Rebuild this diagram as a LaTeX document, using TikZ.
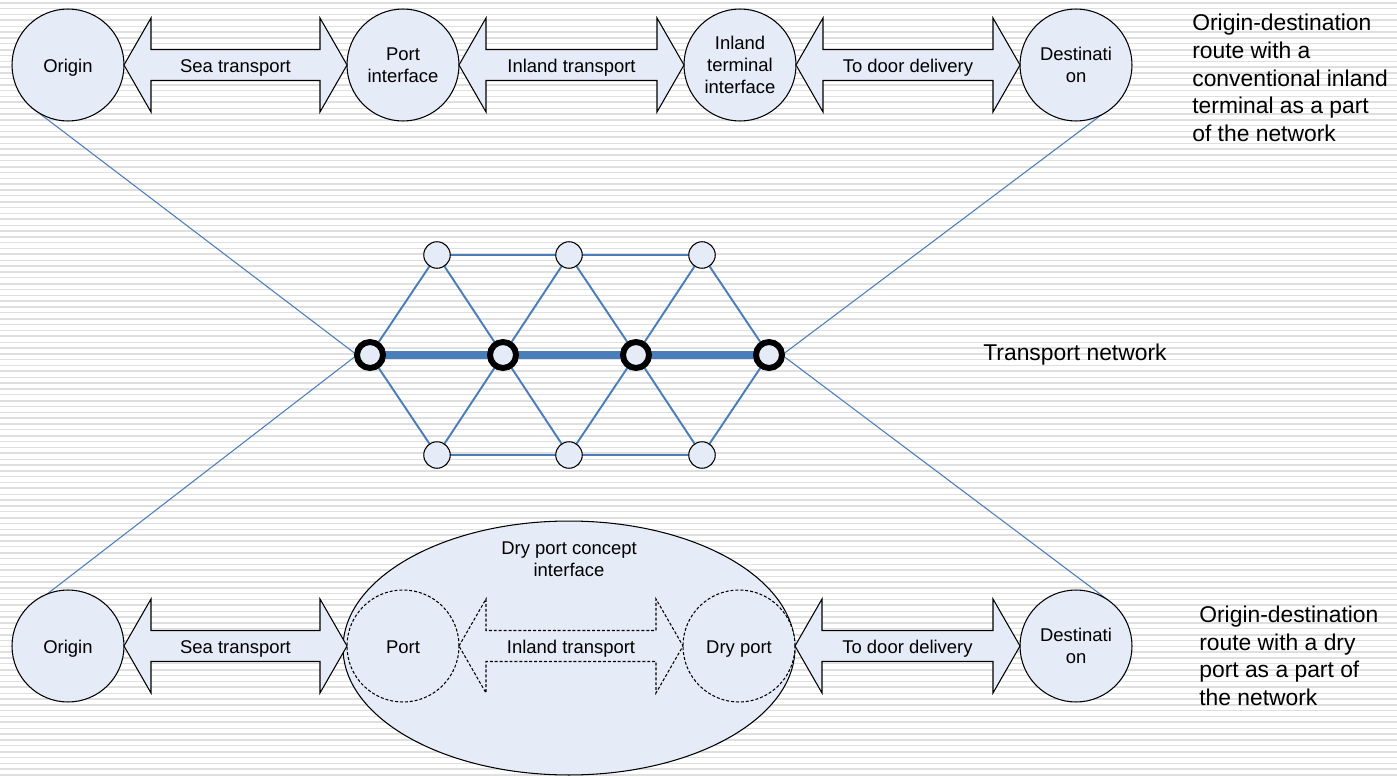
\documentclass[tikz,border=0pt]{standalone}
\usepackage{fontspec}
\setmainfont{Liberation Sans}
\usetikzlibrary{calc}
\usetikzlibrary{backgrounds}
\usetikzlibrary{shapes.geometric}

\definecolor{nodefill}{RGB}{229,235,247}
\definecolor{netblue}{RGB}{74,126,187}

\begin{document}
\begin{tikzpicture}[x=0.02cm, y=-0.02cm,
	station/.style={circle, draw=black, line width=0.6pt, fill=nodefill, minimum size=2.24cm,
		inner sep=0pt, outer sep=0pt, align=center, font=\fontsize{10.5}{12.7}\selectfont},
	hub/.style={circle, draw=black, line width=3.4pt, fill=nodefill, minimum size=0.52cm, inner sep=0pt, outer sep=0pt},
	knot/.style={circle, draw=black, line width=0.6pt, fill=nodefill, minimum size=0.53cm, inner sep=0pt, outer sep=0pt},
	twoway/.style={draw=black, line width=0.6pt, fill=nodefill, line join=miter},
	shortdash/.style={dash pattern=on 1.7pt off 1.1pt},
	arrowtext/.style={font=\fontsize{10.5}{12.7}\selectfont, inner sep=0pt, yshift=-0.05cm},
	sidetext/.style={font=\fontsize{13}{15.7}\selectfont, align=left, anchor=west, inner sep=0pt},
	net/.style={netblue, line width=1.1pt},
	link/.style={netblue, line width=0.6pt}]

	\useasboundingbox (0,0) rectangle (1397,777);

	% striped backdrop
	\begin{scope}[on background layer]
		\fill[white] (0,0) rectangle (1397,777);
		\foreach \k in {0,...,66} {
			\draw[gray!25, line width=0.85pt] (0,{3+11.7*\k}) -- (1397,{3+11.7*\k});
			\draw[gray!25, line width=0.85pt] (0,{8.5+11.7*\k}) -- (1397,{8.5+11.7*\k});
		}
	\end{scope}

	% route with inland terminal
	\node[station] (origA) at (68,65) {\raisebox{-0.06em}[0.7em][0pt]{Origin}};
	\node[station] (portA) at (403,65) {Port\\interface};
	\node[station] (termA) at (740,65) {Inland\\terminal\\interface};
	\node[station] (destA) at (1076,65) {Destinati\\on};

	\draw[twoway] (origA.east) -- ++(27,-47) -- ++(0,31.5) -- ($(portA.west)+(-27,-15.5)$) -- ++(0,-31.5) -- (portA.west)
		-- ++(-27,47) -- ++(0,-31.5) -- ($(origA.east)+(27,15.5)$) -- ++(0,31.5) -- cycle;
	\draw[twoway] (portA.east) -- ++(27,-47) -- ++(0,31.5) -- ($(termA.west)+(-27,-15.5)$) -- ++(0,-31.5) -- (termA.west)
		-- ++(-27,47) -- ++(0,-31.5) -- ($(portA.east)+(27,15.5)$) -- ++(0,31.5) -- cycle;
	\draw[twoway] (termA.east) -- ++(27,-47) -- ++(0,31.5) -- ($(destA.west)+(-27,-15.5)$) -- ++(0,-31.5) -- (destA.west)
		-- ++(-27,47) -- ++(0,-31.5) -- ($(termA.east)+(27,15.5)$) -- ++(0,31.5) -- cycle;
	\path (origA.east) -- node[arrowtext] (seaA) {Sea transport} (portA.west);
	\path (portA.east) -- node[arrowtext] (inlA) {Inland transport} (termA.west);
	\path (termA.east) -- node[arrowtext] (doorA) {To door delivery} (destA.west);

	\node[sidetext] (routeA) at (1192,78) {Origin-destination\\route with a\\conventional inland\\terminal as a part\\of the network};

	% transport network
	\node[hub] (hub1) at (370,355) {};
	\node[hub] (hub2) at (503,355) {};
	\node[hub] (hub3) at (636,355) {};
	\node[hub] (hub4) at (769,355) {};
	\node[knot] (up1) at (437,255) {};
	\node[knot] (up2) at (569,255) {};
	\node[knot] (up3) at (702,255) {};
	\node[knot] (low1) at (437,455) {};
	\node[knot] (low2) at (569,455) {};
	\node[knot] (low3) at (702,455) {};

	\begin{scope}[on background layer]
		\draw[net] (up1) -- (up2) -- (up3);
		\draw[net] (low1) -- (low2) -- (low3);
		\draw[net] (hub1) -- (up1) -- (hub2) -- (up2) -- (hub3) -- (up3) -- (hub4);
		\draw[net] (hub1) -- (low1) -- (hub2) -- (low2) -- (hub3) -- (low3) -- (hub4);
		\draw[netblue, line width=4.5pt] (hub1) -- (hub2) -- (hub3) -- (hub4);
	\end{scope}

	\node[sidetext] (netlabel) at (983,355) {Transport network};

	% route with dry port
	\node[ellipse, draw=black, line width=0.6pt, fill=nodefill, minimum width=9.04cm, minimum height=5.08cm,
		inner sep=0pt, outer sep=0pt] (concept) at (569,648) {};
	\node[arrowtext, align=center] (conceptlabel) at (569,557) {Dry port concept\\interface};

	\node[station] (origB) at (68,646) {\raisebox{-0.06em}[0.7em][0pt]{Origin}};
	\node[station, shortdash] (portB) at (403,646) {\raisebox{-0.06em}[0.7em][0pt]{Port}};
	\node[station, shortdash] (dryB) at (739,646) {\raisebox{-0.06em}[0.7em][0pt]{Dry port}};
	\node[station] (destB) at (1076,646) {Destinati\\on};

	\draw[twoway] (origB.east) -- ++(27,-47) -- ++(0,31.5) -- ($(portB.west)+(-27,-15.5)$) -- ++(0,-31.5) -- (portB.west)
		-- ++(-27,47) -- ++(0,-31.5) -- ($(origB.east)+(27,15.5)$) -- ++(0,31.5) -- cycle;
	\draw[twoway, shortdash] (portB.east) -- ++(27,-47) -- ++(0,31.5) -- ($(dryB.west)+(-27,-15.5)$) -- ++(0,-31.5) -- (dryB.west)
		-- ++(-27,47) -- ++(0,-31.5) -- ($(portB.east)+(27,15.5)$) -- ++(0,31.5) -- cycle;
	\draw[twoway] (dryB.east) -- ++(27,-47) -- ++(0,31.5) -- ($(destB.west)+(-27,-15.5)$) -- ++(0,-31.5) -- (destB.west)
		-- ++(-27,47) -- ++(0,-31.5) -- ($(dryB.east)+(27,15.5)$) -- ++(0,31.5) -- cycle;
	\path (origB.east) -- node[arrowtext] (seaB) {Sea transport} (portB.west);
	\path (portB.east) -- node[arrowtext] (inlB) {Inland transport} (dryB.west);
	\path (dryB.east) -- node[arrowtext] (doorB) {To door delivery} (destB.west);

	\node[sidetext] (routeB) at (1199,656) {Origin-destination\\route with a dry\\port as a part of\\the network};

	% links from the routes into the network
	\begin{scope}[on background layer]
		\draw[link] (origA.228) -- (hub1.west);
		\draw[link] (origB.112) -- (hub1.west);
		\draw[link] (destA.-43) -- (hub4.east);
		\draw[link] (destB.55) -- (hub4.east);
	\end{scope}

\end{tikzpicture}
\end{document}
